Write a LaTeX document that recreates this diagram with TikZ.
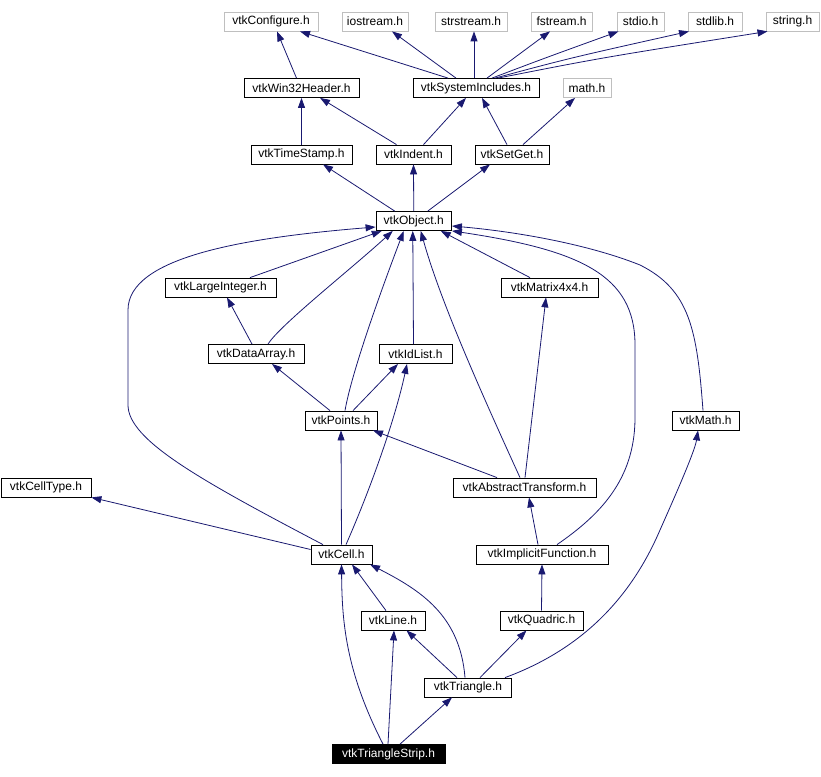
\documentclass[tikz,border=0pt]{standalone}
\usepackage{fontspec}
\setmainfont{Liberation Sans}
\usetikzlibrary{arrows.meta}
\definecolor{edgeblue}{HTML}{191970}
\definecolor{extgray}{HTML}{BFBFBF}

\begin{document}
\begin{tikzpicture}[x=1pt,y=-1pt,
  hdr/.style={draw,line width=0.8pt,font=\fontsize{12}{14}\selectfont,inner sep=0pt,minimum height=19pt},
  ext/.style={hdr,draw=extgray},
  cur/.style={hdr,fill=black,text=white},
  dep/.style={draw=edgeblue,line width=0.8pt,-{Triangle[length=10pt,width=7pt]}}]
\useasboundingbox (0,0) rectangle (821,776);
% system headers
\node[ext,minimum width=94pt] (cfg) at (271,21.5) {vtkConfigure.h};
\node[ext,minimum width=66pt] (iostr) at (375,21.5) {iostream.h};
\node[ext,minimum width=72pt] (strstr) at (471,21.5) {strstream.h};
\node[ext,minimum width=61pt] (fstr) at (561.5,21.5) {fstream.h};
\node[ext,minimum width=47pt] (stdio) at (640.5,21.5) {stdio.h};
\node[ext,minimum width=54pt] (stdlib) at (715,21.5) {stdlib.h};
\node[ext,minimum width=53pt] (strh) at (792.5,21.5) {string.h};
\node[hdr,minimum width=115pt] (win32) at (301.5,88) {vtkWin32Header.h};
\node[hdr,minimum width=126pt] (sysinc) at (476,88) {vtkSystemIncludes.h};
\node[ext,minimum width=48pt] (mathh) at (587,88) {math.h};
\node[hdr,minimum width=101pt] (tstamp) at (301.5,154.5) {vtkTimeStamp.h};
\node[hdr,minimum width=75pt] (indent) at (413.5,154.5) {vtkIndent.h};
\node[hdr,minimum width=74pt] (setget) at (512,154.5) {vtkSetGet.h};
\node[hdr,minimum width=75.5pt] (obj) at (413.75,221) {vtkObject.h};
\node[hdr,minimum width=111pt] (lint) at (220.5,287.5) {vtkLargeInteger.h};
\node[hdr,minimum width=97pt] (mat) at (549.5,287.5) {vtkMatrix4x4.h};
\node[hdr,minimum width=96pt] (darr) at (256,354) {vtkDataArray.h};
\node[hdr,minimum width=73pt] (idl) at (415.5,354) {vtkIdList.h};
\node[hdr,minimum width=72pt] (pts) at (341,420.5) {vtkPoints.h};
\node[hdr,minimum width=67pt] (vmath) at (705.5,420.5) {vtkMath.h};
\node[hdr,minimum width=90pt] (ctype) at (46,487.5) {vtkCellType.h};
\node[hdr,minimum width=143pt] (abstr) at (524.5,487.5) {vtkAbstractTransform.h};
\node[hdr,minimum width=61pt] (cell) at (341.5,554.5) {vtkCell.h};
\node[hdr,minimum width=132pt] (impl) at (542,554.5) {vtkImplicitFunction.h};
\node[hdr,minimum width=64pt] (line) at (393,620.5) {vtkLine.h};
\node[hdr,minimum width=83pt] (quad) at (541.5,620.5) {vtkQuadric.h};
\node[hdr,minimum width=86.5pt] (tri) at (468,687.5) {vtkTriangle.h};
\node[cur,minimum width=113pt] (strip) at (388.5,754) {vtkTriangleStrip.h};

% includes of vtkSystemIncludes.h and vtkWin32Header.h
\draw[dep] ([xshift=-28]sysinc.north) -- ([xshift=29]cfg.south);
\draw[dep] ([xshift=-20]sysinc.north) -- ([xshift=17]iostr.south);
\draw[dep] ([xshift=-2]sysinc.north) -- ([xshift=3]strstr.south);
\draw[dep] ([xshift=11]sysinc.north) -- ([xshift=-11.5]fstr.south);
\draw[dep] ([xshift=16]sysinc.north) .. controls (545,58) .. ([xshift=-22]stdio.south);
\draw[dep] ([xshift=19]sysinc.north) .. controls (570,58) .. ([xshift=-26]stdlib.south);
\draw[dep] ([xshift=22]sysinc.north) .. controls (600,58) .. ([xshift=-25]strh.south);
\draw[dep] ([xshift=-5]win32.north) -- ([xshift=6]cfg.south);
\draw[dep] (tstamp.north) -- (win32.south);
\draw[dep] ([xshift=-17]indent.north) -- ([xshift=18.5]win32.south);
\draw[dep] ([xshift=10]indent.north) -- ([xshift=-10]sysinc.south);
\draw[dep] ([xshift=-5]setget.north) -- ([xshift=6]sysinc.south);
\draw[dep] ([xshift=11]setget.north) -- ([xshift=-12]mathh.south);
\draw[dep] ([xshift=-19]obj.north) -- ([xshift=21.5]tstamp.south);
\draw[dep] (obj.north) -- (indent.south);
\draw[dep] ([xshift=14]obj.north) -- ([xshift=-22]setget.south);

% into vtkObject.h
\draw[dep] ([xshift=-18.5]cell.north) .. controls (200,480) and (128,440) .. (128,405)
  -- (128,310) .. controls (128,258) and (240,238) .. ([yshift=-6]obj.west);
\draw[dep] ([xshift=29.5]lint.north) -- ([xshift=-32]obj.south);
\draw[dep] ([xshift=12]darr.north) .. controls (280,325) and (350,270) .. ([xshift=-21]obj.south);
\draw[dep] ([xshift=-4]darr.north) -- ([xshift=6.5]lint.south);
\draw[dep] ([xshift=4]pts.north) .. controls (352,370) and (385,280) .. ([xshift=-10]obj.south);
\draw[dep] ([xshift=-11]pts.north) -- ([xshift=16]darr.south);
\draw[dep] ([xshift=12]pts.north) -- ([xshift=-17.5]idl.south);
\draw[dep] ([xshift=-2]idl.north) -- ([xshift=-1]obj.south);
\draw[dep] ([xshift=4.5]cell.north) .. controls (370,490) and (395,420) .. ([xshift=-8.5]idl.south);
\draw[dep] ([xshift=-4.5]abstr.north) .. controls (480,390) and (440,300) .. ([xshift=7]obj.south);
\draw[dep] ([xshift=0.5]abstr.north) -- ([xshift=-3.5]mat.south);
\draw[dep] ([xshift=-27.5]abstr.north) -- ([xshift=32]pts.south);
\draw[dep] ([xshift=-19.5]mat.north) -- ([xshift=27]obj.south);
\draw[dep] ([xshift=15]impl.north) .. controls (600,515) and (634,480) .. (635,420)
  -- (635,345) .. controls (635,275) and (580,250) .. (obj.south east);
\draw[dep] ([xshift=-2.5]vmath.north) .. controls (697,330) and (690,290) .. (640,265)
  .. controls (590,245) and (520,232) .. ([yshift=-5]obj.east);

% lower part
\draw[dep] ([xshift=-4]impl.north) -- ([xshift=4.5]abstr.south);
\draw[dep] (cell.north) -- (pts.south);
\draw[dep] ([yshift=5]cell.west) -- (ctype.south east);
\draw[dep] (quad.north) -- (impl.south);
\draw[dep] ([xshift=-7]line.north) -- ([xshift=10.5]cell.south);
\draw[dep] ([xshift=-3]tri.north) .. controls (460,615) and (420,590) .. ([xshift=28.5]cell.south);
\draw[dep] ([xshift=-11]tri.north) -- ([xshift=13.5]line.south);
\draw[dep] ([xshift=12]tri.north) -- ([xshift=-15]quad.south);
\draw[dep] ([xshift=37]tri.north) .. controls (580,650) and (630,600) .. (660,530)
  .. controls (680,485) and (695,450) .. ([xshift=-7.5]vmath.south);
\draw[dep] ([xshift=-5.5]strip.north) .. controls (345,670) and (342,620) .. (cell.south);
\draw[dep] ([xshift=-0.5]strip.north) -- ([xshift=1]line.south);
\draw[dep] ([xshift=11.5]strip.north) -- ([xshift=-16]tri.south);
\end{tikzpicture}
\end{document}
